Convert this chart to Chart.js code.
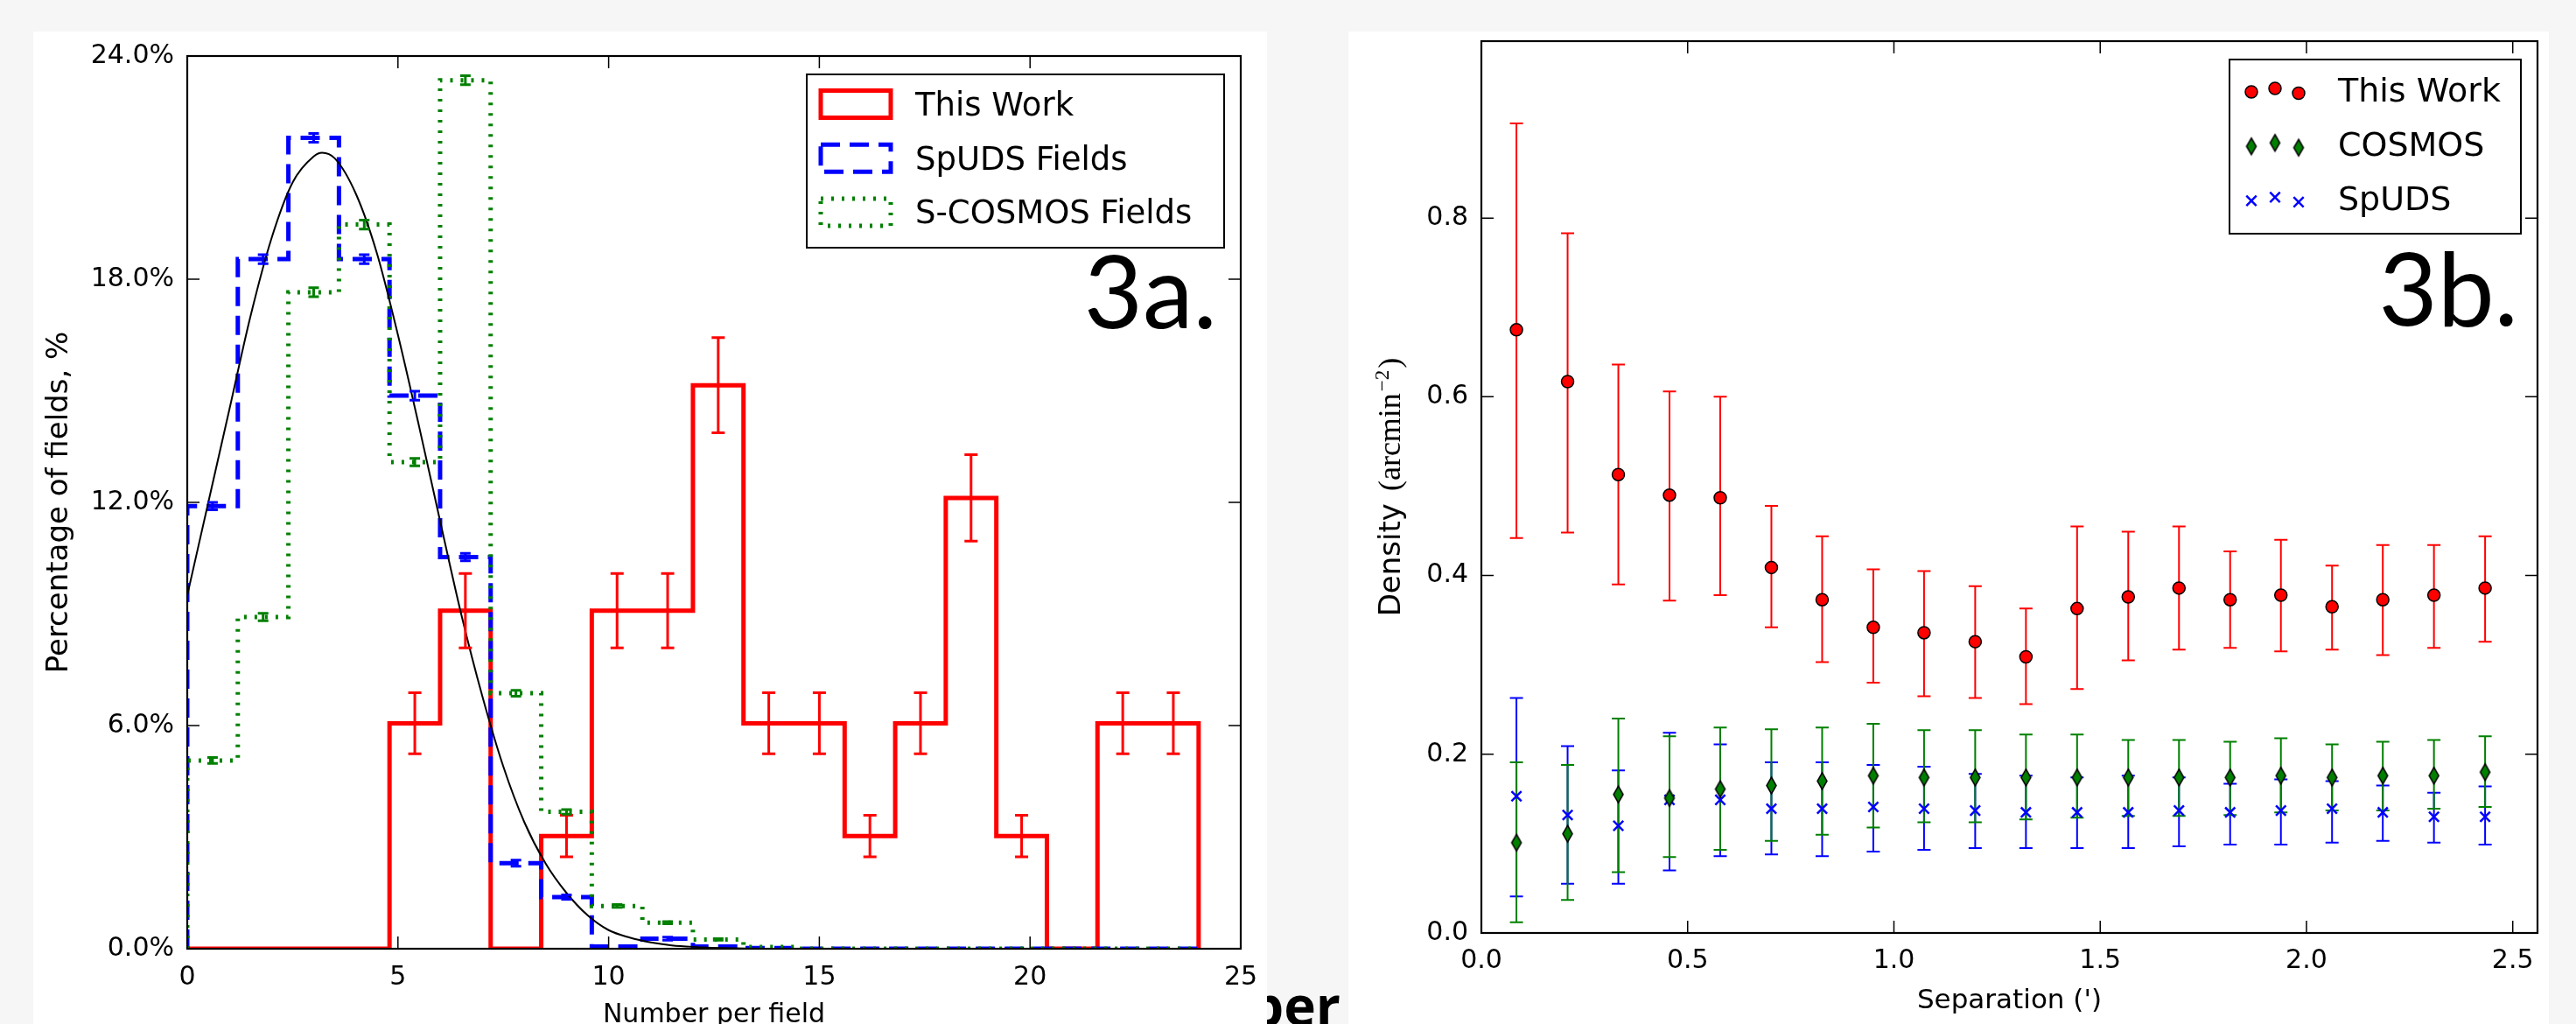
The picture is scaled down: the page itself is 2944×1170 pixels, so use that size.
<!DOCTYPE html>
<html>
<head>
<meta charset="utf-8">
<script src="https://cdn.jsdelivr.net/npm/chart.js@4.4.1/dist/chart.umd.min.js"></script>
<style>
  html, body { margin: 0; padding: 0; }
  body { width: 2944px; height: 1170px; overflow: hidden; background: #f6f6f6; position: relative; }
  canvas { position: absolute; background: #fff; }
  #histChart { left: 38px; top: 36px; }
  #densChart { left: 1541px; top: 36px; }
  #behind { position: absolute; left: 1428px; top: 1117px; font: 700 62px/1 "Open Sans", sans-serif; color: #000; }
</style>
</head>
<body>
<div id="behind">per</div>
<canvas id="histChart" width="1410" height="1164"></canvas>
<canvas id="densChart" width="1372" height="1164"></canvas>
<script>
// 3a: percentage of fields vs number of sources per field
const binEdges = [0, 1.2, 2.4, 3.6, 4.8, 6.0, 7.2, 8.4, 9.6, 10.8, 12.0, 13.2, 14.4, 15.6, 16.8, 18.0, 19.2, 20.4, 21.6, 22.8, 24.0];
const thisWorkPct = [0, 0, 0, 0, 6.06, 9.09, 0, 3.03, 9.09, 9.09, 15.15, 6.06, 6.06, 3.03, 6.06, 12.12, 3.03, 0, 6.06, 6.06];
const thisWorkErr = [0, 0, 0, 0, 0.82, 1.0, 0, 0.56, 1.0, 1.0, 1.28, 0.82, 0.82, 0.56, 0.82, 1.16, 0.56, 0, 0.82, 0.82];
const spudsPct = [11.9, 18.54, 21.8, 18.54, 14.87, 10.53, 2.3, 1.39, 0.06, 0.27, 0.06, 0.02, 0, 0, 0, 0, 0, 0, 0, 0];
const spudsErr = [0.1, 0.12, 0.12, 0.12, 0.12, 0.1, 0.08, 0.06, 0, 0.04, 0, 0, 0, 0, 0, 0, 0, 0, 0, 0];
const scosmosPct = [5.06, 8.92, 17.65, 19.47, 13.08, 23.35, 6.87, 3.68, 1.15, 0.7, 0.25, 0.05, 0, 0, 0, 0, 0, 0, 0, 0];
const scosmosErr = [0.08, 0.1, 0.12, 0.12, 0.1, 0.12, 0.08, 0.06, 0.04, 0.03, 0.02, 0, 0, 0, 0, 0, 0, 0, 0, 0];
// black fitted curve
const fitX = [0, 0.5, 1, 1.5, 2, 2.5, 3, 3.2, 3.5, 4, 4.5, 5, 5.5, 6, 6.5, 7, 7.5, 8, 8.5, 9, 9.5, 10, 10.5, 11, 11.5, 12, 13, 14, 25];
const fitY = [9.5, 12.0, 14.5, 17.0, 19.1, 20.6, 21.3, 21.4, 21.25, 20.3, 18.7, 16.5, 14.05, 11.5, 9.0, 6.8, 4.9, 3.4, 2.3, 1.5, 0.9, 0.5, 0.3, 0.17, 0.09, 0.05, 0.01, 0, 0];

// 3b: density vs separation
const separation = [0.085, 0.209, 0.332, 0.456, 0.579, 0.703, 0.826, 0.950, 1.073, 1.197, 1.320, 1.444, 1.568, 1.691, 1.815, 1.938, 2.062, 2.185, 2.309, 2.433];
const thisWorkDens = [0.675, 0.617, 0.513, 0.490, 0.487, 0.409, 0.373, 0.342, 0.336, 0.326, 0.309, 0.363, 0.376, 0.386, 0.373, 0.378, 0.365, 0.373, 0.378, 0.386];
const thisWorkHi = [0.906, 0.783, 0.636, 0.606, 0.600, 0.478, 0.444, 0.407, 0.405, 0.388, 0.363, 0.455, 0.449, 0.455, 0.427, 0.440, 0.411, 0.434, 0.434, 0.444];
const thisWorkLo = [0.442, 0.448, 0.390, 0.372, 0.378, 0.342, 0.303, 0.280, 0.265, 0.263, 0.256, 0.273, 0.305, 0.317, 0.319, 0.315, 0.317, 0.311, 0.319, 0.326];
const cosmosDens = [0.101, 0.111, 0.155, 0.151, 0.161, 0.165, 0.170, 0.176, 0.174, 0.174, 0.174, 0.174, 0.174, 0.174, 0.174, 0.176, 0.174, 0.176, 0.176, 0.180];
const cosmosHi = [0.191, 0.188, 0.240, 0.220, 0.230, 0.228, 0.230, 0.234, 0.227, 0.227, 0.222, 0.222, 0.216, 0.216, 0.214, 0.218, 0.211, 0.214, 0.216, 0.220];
const cosmosLo = [0.012, 0.037, 0.068, 0.085, 0.093, 0.103, 0.110, 0.118, 0.124, 0.124, 0.127, 0.129, 0.131, 0.131, 0.132, 0.135, 0.137, 0.137, 0.139, 0.141];
const spudsDens = [0.153, 0.132, 0.120, 0.149, 0.149, 0.139, 0.139, 0.141, 0.139, 0.137, 0.135, 0.135, 0.135, 0.137, 0.135, 0.137, 0.139, 0.135, 0.130, 0.130];
const spudsHi = [0.263, 0.209, 0.182, 0.224, 0.211, 0.191, 0.191, 0.188, 0.186, 0.178, 0.176, 0.174, 0.176, 0.174, 0.167, 0.172, 0.170, 0.165, 0.157, 0.164];
const spudsLo = [0.041, 0.055, 0.055, 0.070, 0.086, 0.088, 0.086, 0.091, 0.093, 0.095, 0.095, 0.095, 0.095, 0.097, 0.099, 0.099, 0.101, 0.103, 0.101, 0.099];

Chart.defaults.font.family = '"DejaVu Sans", sans-serif';
Chart.defaults.color = '#000';

const RED = '#ff0000', BLUE = '#0000ff', GREEN = '#008000';

// step outline of a histogram (matplotlib histtype='step')
function stepOutline(values) {
    const last = binEdges.length - 1;
    const pts = [{ x: binEdges[0], y: 0 }];
    values.forEach((v, i) => pts.push({ x: binEdges[i], y: v }));
    pts.push({ x: binEdges[last], y: values[values.length - 1] });
    pts.push({ x: binEdges[last], y: 0 });
    return pts;
}

const binCenters = binEdges.slice(0, -1).map((e, i) => (e + binEdges[i + 1]) / 2);
function histErrSet(values, errs, color, cap) {
    return {
        x: binCenters, lo: values.map((v, i) => v - errs[i]), hi: values.map((v, i) => v + errs[i]),
        color: color, width: 3, cap: cap
    };
}

function makeThinDiamond(fill, w, h) {
    const c = document.createElement('canvas');
    c.width = w + 4; c.height = h + 4;
    const g = c.getContext('2d');
    g.beginPath();
    g.moveTo(c.width / 2, 2);
    g.lineTo(c.width - 2, c.height / 2);
    g.lineTo(c.width / 2, c.height - 2);
    g.lineTo(2, c.height / 2);
    g.closePath();
    g.fillStyle = fill; g.fill();
    g.lineWidth = 1.5; g.strokeStyle = '#000'; g.stroke();
    return c;
}
const diamondImg = makeThinDiamond(GREEN, 11, 19);

function drawErrorBars(chart, sets) {
    const { ctx, scales: { x, y } } = chart;
    ctx.save();
    sets.forEach(s => {
        ctx.strokeStyle = s.color;
        ctx.lineWidth = s.width;
        s.x.forEach((xv, i) => {
            if (s.lo[i] === s.hi[i]) return;
            const px = x.getPixelForValue(xv);
            const pl = y.getPixelForValue(s.lo[i]);
            const ph = y.getPixelForValue(s.hi[i]);
            ctx.beginPath();
            ctx.moveTo(px, pl); ctx.lineTo(px, ph);
            ctx.moveTo(px - s.cap, pl); ctx.lineTo(px + s.cap, pl);
            ctx.moveTo(px - s.cap, ph); ctx.lineTo(px + s.cap, ph);
            ctx.stroke();
        });
    });
    ctx.restore();
}

const errorBarPlugin = {
    id: 'errorBars',
    beforeDatasetsDraw(chart, args, opts) { if (opts.layer === 'under') drawErrorBars(chart, opts.sets); },
    afterDatasetsDraw(chart, args, opts) { if (opts.layer !== 'under') drawErrorBars(chart, opts.sets); }
};

// axes box with inward ticks on all four sides
const framePlugin = {
    id: 'frame',
    afterDatasetsDraw(chart) {
        const { ctx, chartArea: a, scales: { x, y } } = chart;
        const len = 14;
        ctx.save();
        ctx.strokeStyle = '#000';
        ctx.lineWidth = 1.5;
        ctx.beginPath();
        x.ticks.forEach(t => {
            const px = x.getPixelForValue(t.value);
            ctx.moveTo(px, a.bottom); ctx.lineTo(px, a.bottom - len);
            ctx.moveTo(px, a.top); ctx.lineTo(px, a.top + len);
        });
        y.ticks.forEach(t => {
            const py = y.getPixelForValue(t.value);
            ctx.moveTo(a.left, py); ctx.lineTo(a.left + len, py);
            ctx.moveTo(a.right, py); ctx.lineTo(a.right - len, py);
        });
        ctx.stroke();
        ctx.lineWidth = 2.2;
        ctx.strokeRect(a.left, a.top, a.right - a.left, a.bottom - a.top);
        ctx.restore();
    }
};

function drawMarker(ctx, kind, x, y) {
    ctx.save();
    if (kind === 'circle') {
        ctx.beginPath();
        ctx.arc(x, y, 7, 0, Math.PI * 2);
        ctx.fillStyle = RED; ctx.fill();
        ctx.lineWidth = 1.5; ctx.strokeStyle = '#000'; ctx.stroke();
    } else if (kind === 'diamond') {
        ctx.drawImage(diamondImg, x - diamondImg.width / 2, y - diamondImg.height / 2);
    } else {
        const d = 5.7;
        ctx.beginPath();
        ctx.moveTo(x - d, y - d); ctx.lineTo(x + d, y + d);
        ctx.moveTo(x + d, y - d); ctx.lineTo(x - d, y + d);
        ctx.lineWidth = 2.5; ctx.strokeStyle = BLUE; ctx.stroke();
    }
    ctx.restore();
}

const histDecor = {
    id: 'histDecor',
    afterDraw(chart) {
        const { ctx, chartArea: a } = chart;
        ctx.save();
        // legend
        const bw = 477, bh = 198;
        const bx = a.right - 19 - bw, by = a.top + 21;
        ctx.fillStyle = '#fff';
        ctx.fillRect(bx, by, bw, bh);
        ctx.lineWidth = 2;
        ctx.strokeStyle = '#000';
        ctx.strokeRect(bx, by, bw, bh);
        const rows = [
            { label: 'This Work', color: RED, dash: [] },
            { label: 'SpUDS Fields', color: BLUE, dash: [22, 11] },
            { label: 'S-COSMOS Fields', color: GREEN, dash: [3, 9] }
        ];
        rows.forEach((r, i) => {
            const cy = by + 33.5 + i * 61.7;
            ctx.setLineDash(r.dash);
            ctx.lineWidth = 5;
            ctx.strokeStyle = r.color;
            ctx.strokeRect(bx + 16, cy - 15, 80, 31);
            ctx.setLineDash([]);
            ctx.fillStyle = '#000';
            ctx.font = '37px "DejaVu Sans"';
            ctx.textBaseline = 'alphabetic';
            ctx.fillText(r.label, bx + 124, cy + 13.5);
        });
        // panel tag
        ctx.font = '116px Lato';
        ctx.textAlign = 'right';
        ctx.fillText('3a.', a.right - 27, a.top + 311);
        ctx.restore();
    }
};

const densDecor = {
    id: 'densDecor',
    afterDraw(chart) {
        const { ctx, chartArea: a } = chart;
        ctx.save();
        const bw = 333, bh = 199;
        const bx = a.right - 19 - bw, by = a.top + 21;
        ctx.fillStyle = '#fff';
        ctx.fillRect(bx, by, bw, bh);
        ctx.lineWidth = 2;
        ctx.strokeStyle = '#000';
        ctx.strokeRect(bx, by, bw, bh);
        const rows = [
            { label: 'This Work', kind: 'circle' },
            { label: 'COSMOS', kind: 'diamond' },
            { label: 'SpUDS', kind: 'cross' }
        ];
        const jitter = [3.5, -0.5, 5];
        rows.forEach((r, i) => {
            const cy = by + 33.5 + i * 62.2;
            [25, 52, 79].forEach((dx, k) => drawMarker(ctx, r.kind, bx + dx, cy + jitter[k]));
            ctx.fillStyle = '#000';
            ctx.font = '38px "DejaVu Sans"';
            ctx.fillText(r.label, bx + 124, cy + 14);
        });
        ctx.font = '116px Lato';
        ctx.textAlign = 'right';
        ctx.fillText('3b.', a.right - 22, a.top + 325);
        ctx.restore();

        // y axis title: sans word followed by math-style serif unit
        const parts = [
            { t: 'Density', font: '34px "DejaVu Sans"', dy: 0, gap: 14 },
            { t: '(arcmin', font: '36px "Liberation Serif"', dy: 0, gap: 2 },
            { t: '\u22122', font: '23px "Liberation Serif"', dy: -13, gap: 2 },
            { t: ')', font: '36px "Liberation Serif"', dy: 0, gap: 0 }
        ];
        let total = 0;
        parts.forEach(p => { ctx.font = p.font; p.w = ctx.measureText(p.t).width; total += p.w + p.gap; });
        const cy = (a.top + a.bottom) / 2;
        ctx.save();
        ctx.translate(59, cy + total / 2);
        ctx.rotate(-Math.PI / 2);
        ctx.fillStyle = '#000';
        let px = 0;
        parts.forEach(p => { ctx.font = p.font; ctx.fillText(p.t, px, p.dy); px += p.w + p.gap; });
        ctx.restore();
    }
};

const tickFont = { size: 30, family: '"DejaVu Sans"' };

new Chart(document.getElementById('histChart'), {
    type: 'scatter',
    data: {
        datasets: [
            { label: 'fit', data: fitX.map((x, i) => ({ x: x, y: fitY[i] })), showLine: true,
              borderColor: '#000', borderWidth: 2, pointRadius: 0, cubicInterpolationMode: 'monotone' },
            { label: 'S-COSMOS Fields', data: stepOutline(scosmosPct), showLine: true, stepped: 'before',
              borderColor: GREEN, borderWidth: 5, borderDash: [3, 9], pointRadius: 0 },
            { label: 'SpUDS Fields', data: stepOutline(spudsPct), showLine: true, stepped: 'before',
              borderColor: BLUE, borderWidth: 5, borderDash: [22, 11], pointRadius: 0 },
            { label: 'This Work', data: stepOutline(thisWorkPct), showLine: true, stepped: 'before',
              borderColor: RED, borderWidth: 5, borderJoinStyle: 'miter', pointRadius: 0 }
        ]
    },
    options: {
        responsive: false,
        animation: false,
        events: [],
        layout: { padding: { left: 0, top: 28, right: 30, bottom: 0 } },
        plugins: {
            legend: { display: false },
            tooltip: { enabled: false },
            errorBars: {
                layer: 'over',
                sets: [
                    histErrSet(thisWorkPct, thisWorkErr, RED, 7.5),
                    histErrSet(spudsPct, spudsErr, BLUE, 6),
                    histErrSet(scosmosPct, scosmosErr, GREEN, 6)
                ]
            }
        },
        scales: {
            x: {
                type: 'linear', min: 0, max: 25,
                grid: { display: false, drawTicks: false }, border: { display: false },
                ticks: { stepSize: 5, padding: 15, font: tickFont, maxRotation: 0, autoSkip: false, callback: v => String(v) },
                title: { display: true, text: 'Number per field', font: { size: 30 }, padding: { top: 0, bottom: 22 } },
                afterFit: s => { s.height = 116; s.paddingLeft = 0; s.paddingRight = 0; }
            },
            y: {
                min: 0, max: 24,
                grid: { display: false, drawTicks: false }, border: { display: false },
                ticks: { stepSize: 6, padding: 15, font: tickFont, callback: v => v.toFixed(1) + '%' },
                title: { display: true, text: 'Percentage of fields, %', font: { size: 34 }, padding: { top: 10, bottom: 0 } },
                afterFit: s => { s.width = 176; s.paddingTop = 0; s.paddingBottom = 0; }
            }
        }
    },
    plugins: [errorBarPlugin, framePlugin, histDecor]
});

const pts = (xs, ys) => xs.map((x, i) => ({ x: x, y: ys[i] }));

new Chart(document.getElementById('densChart'), {
    type: 'scatter',
    data: {
        datasets: [
            { label: 'This Work', data: pts(separation, thisWorkDens), pointStyle: 'circle', pointRadius: 7,
              backgroundColor: RED, borderColor: '#000', borderWidth: 1.5 },
            { label: 'COSMOS', data: pts(separation, cosmosDens), pointStyle: diamondImg, pointRadius: 10 },
            { label: 'SpUDS', data: pts(separation, spudsDens), pointStyle: 'crossRot', pointRadius: 8,
              borderColor: BLUE, backgroundColor: BLUE, borderWidth: 2.5 }
        ]
    },
    options: {
        responsive: false,
        animation: false,
        events: [],
        layout: { padding: { left: 0, top: 7, right: 13, bottom: 0 } },
        plugins: {
            legend: { display: false },
            tooltip: { enabled: false },
            errorBars: {
                layer: 'under',
                sets: [
                    { x: separation, lo: spudsLo, hi: spudsHi, color: BLUE, width: 2, cap: 7.5 },
                    { x: separation, lo: cosmosLo, hi: cosmosHi, color: GREEN, width: 2, cap: 7.5 },
                    { x: separation, lo: thisWorkLo, hi: thisWorkHi, color: RED, width: 2, cap: 7.5 }
                ]
            }
        },
        scales: {
            x: {
                type: 'linear', min: 0, max: 2.56,
                grid: { display: false, drawTicks: false }, border: { display: false },
                ticks: { stepSize: 0.5, includeBounds: false, padding: 14, font: tickFont, maxRotation: 0, autoSkip: false, callback: v => v.toFixed(1) },
                title: { display: true, text: "Separation (')", font: { size: 31 }, padding: { top: 0, bottom: 37 } },
                afterFit: s => { s.height = 134; s.paddingLeft = 0; s.paddingRight = 0; }
            },
            y: {
                min: 0, max: 0.998,
                grid: { display: false, drawTicks: false }, border: { display: false },
                ticks: { stepSize: 0.2, includeBounds: false, padding: 15, font: tickFont, callback: v => v.toFixed(1) },
                afterFit: s => { s.width = 152; s.paddingTop = 0; s.paddingBottom = 0; }
            }
        }
    },
    plugins: [errorBarPlugin, framePlugin, densDecor]
});
</script>
</body>
</html>
